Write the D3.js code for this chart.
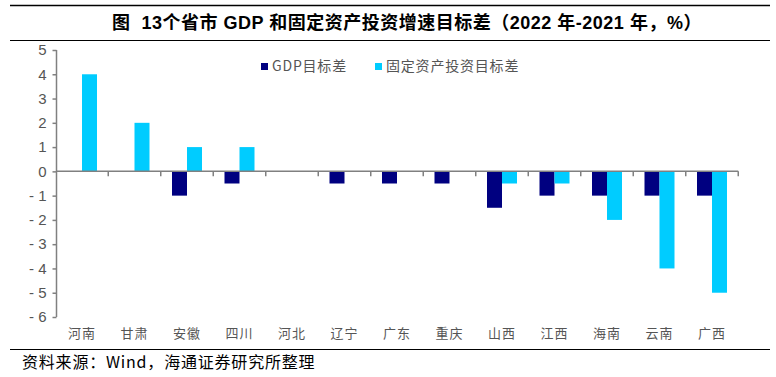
<!DOCTYPE html>
<html><head><meta charset="utf-8">
<script src="https://cdn.jsdelivr.net/npm/d3@7"></script>
<style>body{margin:0;background:#fff}svg{display:block}</style>
</head><body>
<script>
const categories = ["河南","甘肃","安徽","四川","河北","辽宁","广东","重庆","山西","江西","海南","云南","广西"];
const gdpDiff = [0,0,-1,-0.5,0,-0.5,-0.5,-0.5,-1.5,-1,-1,-1,-1];
const invDiff = [4,2,1,1,0,0,0,0,-0.5,-0.5,-2,-4,-5];
const yTicks = [5,4,3,2,1,0,-1,-2,-3,-4,-5,-6];
const seriesNames = ["GDP目标差","固定资产投资目标差"];
const colors = ["#000080","#00CCFF"];

const W=776,H=377;
const svg=d3.select("body").append("svg").attr("width",W).attr("height",H);
const cjk="'Noto Sans CJK SC','Liberation Sans',sans-serif";

svg.append("line").attr("x1",10).attr("x2",770).attr("y1",5.5).attr("y2",5.5).attr("stroke","#000").attr("stroke-width",1.5);
svg.append("text").attr("x",407).attr("y",29).attr("text-anchor","middle")
  .style("font-family","'Liberation Sans',"+cjk).style("font-weight","bold").style("font-size","18px")
  .style("letter-spacing","0.5px").style("white-space","pre")
  .text("图  13个省市 GDP 和固定资产投资增速目标差（2022 年-2021 年，%）");
svg.append("line").attr("x1",10).attr("x2",770).attr("y1",40.5).attr("y2",40.5).attr("stroke","#000").attr("stroke-width",1.2);

const x=d3.scaleBand().domain(categories).range([55.75,738.25]);
const y=d3.scaleLinear().domain([-6,5]).range([317,50]);
const bw=15;

const g=svg.append("g");
categories.forEach((c,i)=>{
  const cx=x(c)+x.bandwidth()/2;
  [gdpDiff[i],invDiff[i]].forEach((v,j)=>{
    if(v===0) return;
    g.append("rect").attr("x",j===0?cx-bw:cx).attr("width",bw)
      .attr("y",y(Math.max(0,v))).attr("height",Math.abs(y(v)-y(0)))
      .attr("fill",colors[j]);
  });
});

// y axis
const ya=svg.append("g").attr("transform","translate(56.5,0)")
  .call(d3.axisLeft(y).tickValues(yTicks).tickSize(4).tickPadding(6).tickFormat(d=>d<0?"- "+Math.abs(d):d));
ya.select(".domain").attr("stroke","#808080").attr("stroke-width",1.5).attr("d","M0,50V317");
ya.selectAll(".tick line").attr("stroke","#808080").attr("stroke-width",1.5);
ya.selectAll(".tick text").style("font-family","'Liberation Sans',Arial,sans-serif").style("font-size","15px").attr("fill","#555");

// x axis at zero
const xa=svg.append("g").attr("transform",`translate(0,${y(0)})`);
xa.append("line").attr("x1",56).attr("x2",738.25).attr("y1",0).attr("y2",0).attr("stroke","#808080").attr("stroke-width",1.5);
categories.forEach((c,i)=>{
  const bx=x(c)+x.bandwidth();
  xa.append("line").attr("x1",bx).attr("x2",bx).attr("y1",0).attr("y2",5).attr("stroke","#808080").attr("stroke-width",1.5);
});
svg.append("g").selectAll("text").data(categories).join("text")
  .attr("x",d=>x(d)+x.bandwidth()/2).attr("y",338).attr("text-anchor","middle")
  .style("font-family",cjk).style("font-size","13px").style("letter-spacing","1px").attr("fill","#555").text(d=>d);

// legend
const leg=[{x:261,t:seriesNames[0],c:colors[0]},{x:375,t:seriesNames[1],c:colors[1]}];
leg.forEach(l=>{
  svg.append("rect").attr("x",l.x).attr("y",63).attr("width",7).attr("height",7).attr("fill",l.c);
  svg.append("text").attr("x",l.x+11).attr("y",71).style("font-family",cjk).style("font-size","14px")
    .style("letter-spacing","0.8px").attr("fill","#555").text(l.t);
});

svg.append("line").attr("x1",10).attr("x2",770).attr("y1",349.5).attr("y2",349.5).attr("stroke","#000").attr("stroke-width",1.2);
svg.append("text").attr("x",22).attr("y",368).style("font-family",cjk).style("font-size","16px").style("letter-spacing","0.8px").attr("fill","#000")
  .text("资料来源：Wind，海通证券研究所整理");
</script>
</body></html>
